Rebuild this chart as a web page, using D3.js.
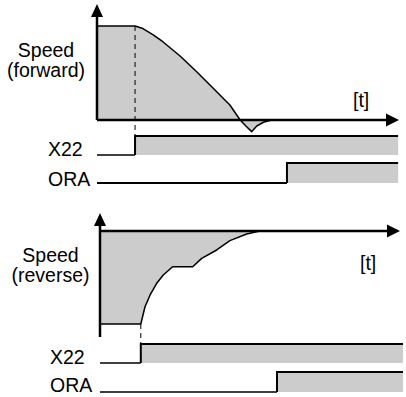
<!DOCTYPE html>
<html>
<head>
<meta charset="utf-8">
<script src="https://cdn.jsdelivr.net/npm/d3@7"></script>
<style>
  body { margin: 0; background: #fff; }
  text { font-family: "Liberation Sans", Arial, sans-serif; font-size: 19.5px; fill: #000; }
</style>
</head>
<body>
<div id="chart"></div>
<script>
// speed curves (time in % of the shown window, speed in % of rated)
var fwdTime  = [0, 12.6, 15.2, 18.5, 21.9, 27.5, 33.1, 38.4, 44.0, 47.4, 49.3, 51.2, 52.9, 55.1, 57.8];
var fwdSpeed = [100, 100, 97.3, 90.9, 83.0, 68.1, 51.1, 34.0, 16.0, 0, -6.4, -12.4, -6.4, -2.4, 0];

var revTime  = [0, 13.6, 15.0, 16.7, 18.9, 21.1, 24.2, 30.9, 33.9, 38.9, 43.3, 48.9, 53.3];
var revSpeed = [-100, -100, -81.4, -68.8, -56.2, -47.3, -38.4, -38.4, -29.4, -20.4, -10.4, -3.2, 0];

// digital signals: [start, switch on, end]
var fwdX22 = [0, 12.6, 99.7];
var fwdORA = [0, 62.9, 99.7];
var revX22 = [0, 13.6, 101];
var revORA = [0, 59, 101];

var signalNames = ["X22", "ORA"];
var speedLabels = [["Speed", "(forward)"], ["Speed", "(reverse)"]];
var timeLabel = "[t]";

var svg = d3.select("#chart").append("svg")
  .attr("width", 406)
  .attr("height", 397);

var GRAY = "#cccccc";

function zip(a, b) {
  return a.map(function (d, i) { return [d, b[i]]; });
}

function arrowUp(x, yTip) {
  svg.append("path")
    .attr("d", "M" + (x - 6) + "," + (yTip + 13) + "L" + x + "," + yTip + "L" + (x + 6) + "," + (yTip + 13) + "Z")
    .attr("fill", "#000");
}

function arrowRight(xTip, y) {
  svg.append("path")
    .attr("d", "M" + (xTip - 13) + "," + (y - 6.5) + "L" + xTip + "," + y + "L" + (xTip - 13) + "," + (y + 6.5) + "Z")
    .attr("fill", "#000");
}

function drawSignal(x, y, edges, lowWidth) {
  svg.append("path")
    .datum([edges[1], edges[2]])
    .attr("d", d3.area().x(function (d) { return x(d); }).y0(y(0)).y1(y(1)))
    .attr("fill", GRAY);
  svg.append("path")
    .datum([[edges[0], 0], [edges[1], 0]])
    .attr("d", d3.line().x(function (d) { return x(d[0]); }).y(function (d) { return y(d[1]); }))
    .attr("fill", "none").attr("stroke", "#000").attr("stroke-width", lowWidth);
  svg.append("path")
    .datum([[edges[1], 0], [edges[1], 1], [edges[2], 1]])
    .attr("d", d3.line().x(function (d) { return x(d[0]); }).y(function (d) { return y(d[1]); }))
    .attr("fill", "none").attr("stroke", "#000").attr("stroke-width", 2);
}

function drawPanel(p) {
  var x = d3.scaleLinear().domain([0, 100]).range(p.xRange);
  var y = d3.scaleLinear().domain(p.yDomain).range(p.yRange);
  var pts = zip(p.time, p.speed);

  // shaded speed area
  svg.append("path")
    .datum(pts)
    .attr("d", d3.area().x(function (d) { return x(d[0]); }).y0(y(0)).y1(function (d) { return y(d[1]); }))
    .attr("fill", GRAY);

  // speed curve
  svg.append("path")
    .datum(pts)
    .attr("d", d3.line().x(function (d) { return x(d[0]); }).y(function (d) { return y(d[1]); }))
    .attr("fill", "none").attr("stroke", "#000").attr("stroke-width", 1.5)
    .attr("stroke-linejoin", "round");

  // signals
  var yX = d3.scaleLinear().domain([0, 1]).range(p.x22Range);
  var yO = d3.scaleLinear().domain([0, 1]).range(p.oraRange);
  drawSignal(x, yX, p.x22, p.lowW[0]);
  drawSignal(x, yO, p.ora, p.lowW[1]);

  // dashed marker from speed level to X22 switch on
  svg.append("line")
    .attr("x1", x(p.x22[1])).attr("x2", x(p.x22[1]))
    .attr("y1", y(p.speed[1])).attr("y2", yX(1))
    .attr("stroke", "#000").attr("stroke-width", 1)
    .attr("stroke-dasharray", "5,4");

  // axes
  svg.append("line")
    .attr("x1", x(0)).attr("x2", x(100) - 10)
    .attr("y1", y(0)).attr("y2", y(0))
    .attr("stroke", "#000").attr("stroke-width", 2.5);
  arrowRight(x(100), y(0));
  svg.append("line")
    .attr("x1", x(0)).attr("x2", x(0))
    .attr("y1", y(p.yAxis[0])).attr("y2", y(p.yAxis[1]) + 10)
    .attr("stroke", "#000").attr("stroke-width", 2.5);
  arrowUp(x(0), y(p.yAxis[1]));

  // labels
  svg.append("text").attr("x", p.speedLabel[0]).attr("y", p.speedLabel[1])
    .attr("text-anchor", "middle").text(p.labels[0]);
  svg.append("text").attr("x", p.speedLabel[0]).attr("y", p.speedLabel[1] + 20)
    .attr("text-anchor", "middle").text(p.labels[1]);
  svg.append("text").attr("x", p.tLabel[0]).attr("y", p.tLabel[1]).text(timeLabel);
  svg.append("text").attr("x", p.sigLabelX).attr("y", yX(0) + 1).text(signalNames[0]);
  svg.append("text").attr("x", p.sigLabelX).attr("y", yO(0) + p.oraDy).text(signalNames[1]);
}

drawPanel({
  time: fwdTime, speed: fwdSpeed, x22: fwdX22, ora: fwdORA,
  xRange: [97, 399], yDomain: [0, 100], yRange: [120, 26], yAxis: [0, 123.4],
  x22Range: [155, 136], oraRange: [183, 163], lowW: [1.3, 2], oraDy: 3,
  labels: speedLabels[0], speedLabel: [46, 57], tLabel: [353, 107], sigLabelX: 48
});

drawPanel({
  time: revTime, speed: revSpeed, x22: revX22, ora: revORA,
  xRange: [100, 400], yDomain: [-100, 0], yRange: [324, 231], yAxis: [-114, 19.4],
  x22Range: [363, 344], oraRange: [392, 372], lowW: [1.3, 1.3], oraDy: 0,
  labels: speedLabels[1], speedLabel: [50.5, 262], tLabel: [360, 270], sigLabelX: 50
});
</script>
</body>
</html>
